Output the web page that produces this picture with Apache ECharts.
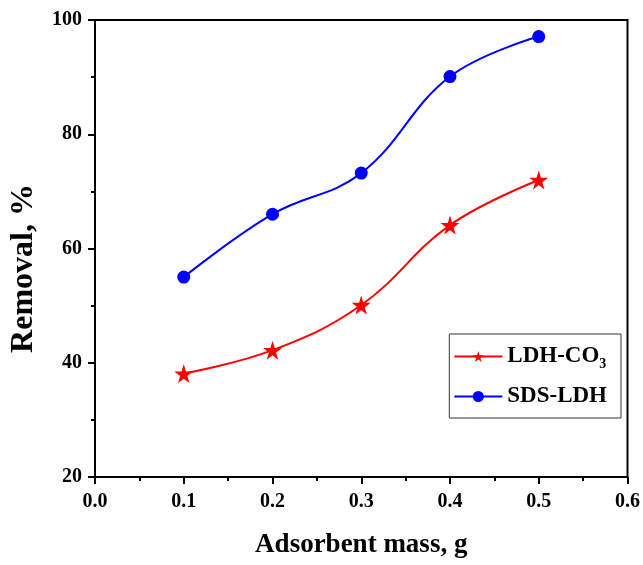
<!DOCTYPE html>
<html>
<head>
<meta charset="utf-8">
<script src="https://cdn.jsdelivr.net/npm/echarts@6/dist/echarts.min.js"></script>
<style>
  html, body { margin: 0; padding: 0; background: #fff; }
  #chart { width: 643px; height: 565px; }
</style>
</head>
<body>
<div id="chart"></div>
<script>
var mass = [0.1, 0.2, 0.3, 0.4, 0.5];
var ldhCO3 = [38.1, 42.2, 50.1, 64.1, 72];
var sdsLDH = [55, 66, 73.2, 90.1, 97.1];

var font = 'Liberation Serif';
var star = 'path://M50,0L61,35L98,35L68,57L79,91L50,70L21,91L32,57L2,35L39,35Z';

function pairs(xs, ys) {
    return xs.map(function (x, i) { return [x, ys[i]]; });
}

var chart = echarts.init(document.getElementById('chart'));
chart.setOption({
    backgroundColor: '#fff',
    animation: false,
    grid: {
        left: 93, right: 15, top: 20, bottom: 88,
        show: true,
        borderColor: '#000',
        borderWidth: 2
    },
    legend: {
        right: 22, top: 334,
        orient: 'vertical',
        itemWidth: 48,
        itemHeight: 14,
        itemGap: 14,
        padding: [11, 14, 10, 4],
        borderColor: '#333',
        borderWidth: 1,
        data: ['LDH-CO3', 'SDS-LDH'],
        formatter: function (name) {
            if (name === 'LDH-CO3') return '{a|LDH-CO}{s|3}';
            return '{a|' + name + '}';
        },
        textStyle: {
            fontFamily: font,
            fontWeight: 'bold',
            fontSize: 23,
            color: '#000',
            rich: {
                a: { fontFamily: font, fontWeight: 'bold', fontSize: 23, color: '#000' },
                s: { fontFamily: font, fontWeight: 'bold', fontSize: 14, color: '#000', padding: [15, 0, 0, 0] }
            }
        }
    },
    xAxis: {
        type: 'value',
        min: 0, max: 0.6, interval: 0.1,
        name: 'Adsorbent mass, g',
        nameLocation: 'middle',
        nameGap: 55,
        nameTextStyle: { fontFamily: font, fontWeight: 'bold', fontSize: 27, color: '#000' },
        axisLine: { lineStyle: { color: '#000', width: 2 } },
        axisTick: { inside: false, length: 7, lineStyle: { color: '#000', width: 2 } },
        minorTick: { show: true, splitNumber: 2, length: 4, lineStyle: { color: '#000', width: 2 } },
        splitLine: { show: false },
        axisLabel: {
            margin: 15,
            fontFamily: font, fontWeight: 'bold', fontSize: 20, color: '#000',
            formatter: function (v) { return v.toFixed(1); }
        }
    },
    yAxis: {
        type: 'value',
        min: 20, max: 100, interval: 20,
        name: 'Removal, %',
        nameLocation: 'middle',
        nameGap: 55,
        nameTextStyle: {
            fontFamily: font, fontWeight: 'bold', fontSize: 32, color: '#000',
            padding: [0, 40, 0, 0]
        },
        axisLine: { lineStyle: { color: '#000', width: 2 } },
        axisTick: { inside: false, length: 7, lineStyle: { color: '#000', width: 2 } },
        minorTick: { show: true, splitNumber: 2, length: 4, lineStyle: { color: '#000', width: 2 } },
        splitLine: { show: false },
        axisLabel: {
            margin: 13,
            fontFamily: font, fontWeight: 'bold', fontSize: 20, color: '#000'
        }
    },
    series: [
        {
            name: 'LDH-CO3',
            type: 'line',
            smooth: 0.4,
            data: pairs(mass, ldhCO3),
            color: '#ff0000',
            symbol: star,
            symbolSize: 19,
            showAllSymbol: true,
            lineStyle: { width: 2, color: '#ff0000' },
            itemStyle: { color: '#ff0000' }
        },
        {
            name: 'SDS-LDH',
            type: 'line',
            smooth: 0.4,
            data: pairs(mass, sdsLDH),
            color: '#0000ff',
            symbol: 'circle',
            symbolSize: 13,
            showAllSymbol: true,
            lineStyle: { width: 2, color: '#0000ff' },
            itemStyle: { color: '#0000ff' }
        }
    ]
});
</script>
</body>
</html>
